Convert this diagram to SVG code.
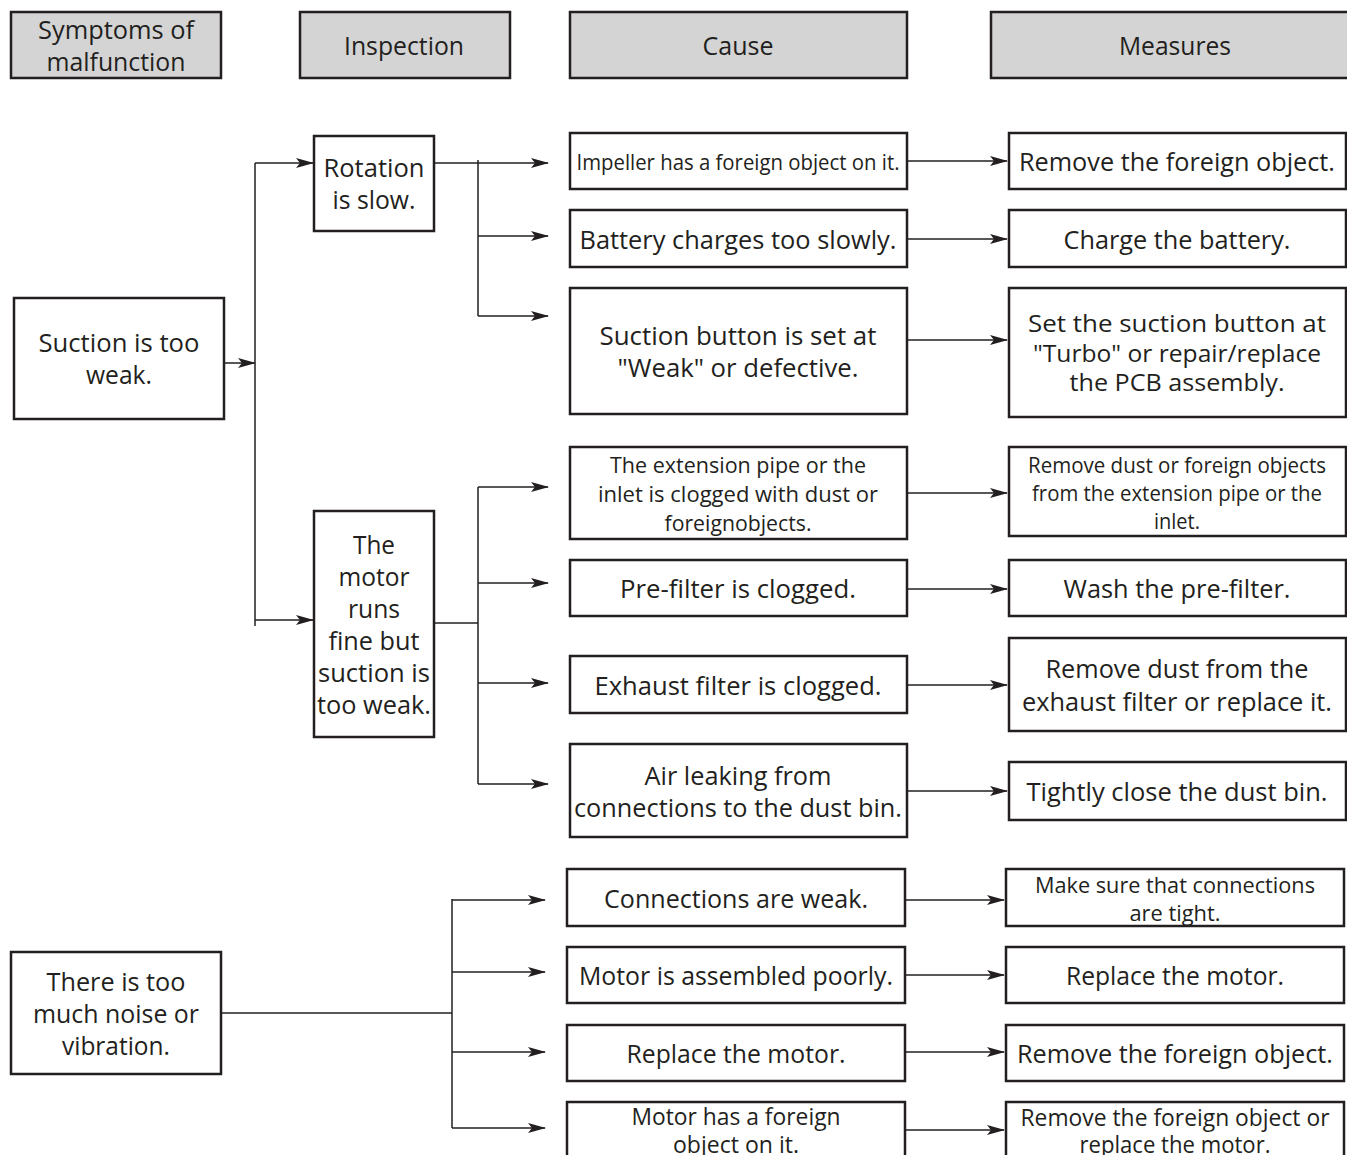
<svg xmlns="http://www.w3.org/2000/svg" width="1347" height="1155" viewBox="0 0 1347 1155">
<style>
.box{fill:#fff;stroke:#231f20;stroke-width:2.5}
.hdr{fill:#d4d4d4;stroke:#231f20;stroke-width:2.5}
.ln{fill:none;stroke:#231f20;stroke-width:1.5}
.ar{fill:none;stroke:#231f20;stroke-width:1.5;marker-end:url(#ah)}
text{font-family:"Open Sans","Noto Sans",sans-serif;fill:#231f20;text-anchor:middle;font-size:25px}
.s{font-size:22px}
.t{font-size:23px}
</style>
<defs>
<marker id="ah" markerWidth="18" markerHeight="10" refX="17" refY="5" orient="auto" markerUnits="userSpaceOnUse">
<path d="M0,0 L18,5 L0,10 L4,5 z" fill="#231f20"/>
</marker>
</defs>
<rect width="1347" height="1155" fill="#fff"/>

<g id="headers">
<g id="h-symptoms"><rect class="hdr" x="11" y="12" width="210" height="66"/>
<text x="116" y="39" textLength="156" lengthAdjust="spacingAndGlyphs">Symptoms of</text>
<text x="116" y="71" textLength="139" lengthAdjust="spacingAndGlyphs">malfunction</text></g>
<g id="h-inspection"><rect class="hdr" x="300" y="12" width="210" height="66"/>
<text x="404" y="55" textLength="120" lengthAdjust="spacingAndGlyphs">Inspection</text></g>
<g id="h-cause"><rect class="hdr" x="570" y="12" width="337" height="66"/>
<text x="738" y="55" textLength="71" lengthAdjust="spacingAndGlyphs">Cause</text></g>
<g id="h-measures"><rect class="hdr" x="991" y="12" width="360" height="66"/>
<text x="1175" y="55" textLength="112" lengthAdjust="spacingAndGlyphs">Measures</text></g>
</g>

<g id="connectors">
<line class="ar" x1="221" y1="363" x2="255" y2="363"/>
<line class="ln" x1="255" y1="163" x2="255" y2="626"/>
<line class="ar" x1="255" y1="163" x2="313" y2="163"/>
<line class="ar" x1="255" y1="620" x2="313" y2="620"/>
<line class="ln" x1="434" y1="163" x2="478" y2="163"/>
<line class="ln" x1="478" y1="160" x2="478" y2="316"/>
<line class="ar" x1="478" y1="163" x2="548" y2="163"/>
<line class="ar" x1="478" y1="236" x2="548" y2="236"/>
<line class="ar" x1="478" y1="316" x2="548" y2="316"/>
<line class="ln" x1="434" y1="623" x2="478" y2="623"/>
<line class="ln" x1="478" y1="487" x2="478" y2="784"/>
<line class="ar" x1="478" y1="487" x2="548" y2="487"/>
<line class="ar" x1="478" y1="583" x2="548" y2="583"/>
<line class="ar" x1="478" y1="683" x2="548" y2="683"/>
<line class="ar" x1="478" y1="784" x2="548" y2="784"/>
<line class="ar" x1="907" y1="161" x2="1007" y2="161"/>
<line class="ar" x1="907" y1="239" x2="1007" y2="239"/>
<line class="ar" x1="907" y1="340" x2="1007" y2="340"/>
<line class="ar" x1="907" y1="493" x2="1007" y2="493"/>
<line class="ar" x1="907" y1="589" x2="1007" y2="589"/>
<line class="ar" x1="907" y1="685" x2="1007" y2="685"/>
<line class="ar" x1="907" y1="791" x2="1007" y2="791"/>
<line class="ln" x1="221" y1="1013" x2="452" y2="1013"/>
<line class="ln" x1="452" y1="899" x2="452" y2="1128"/>
<line class="ar" x1="452" y1="900" x2="545" y2="900"/>
<line class="ar" x1="452" y1="972" x2="545" y2="972"/>
<line class="ar" x1="452" y1="1052" x2="545" y2="1052"/>
<line class="ar" x1="452" y1="1128" x2="545" y2="1128"/>
<line class="ar" x1="905" y1="900" x2="1004" y2="900"/>
<line class="ar" x1="905" y1="975" x2="1004" y2="975"/>
<line class="ar" x1="905" y1="1052" x2="1004" y2="1052"/>
<line class="ar" x1="905" y1="1130" x2="1004" y2="1130"/>
</g>

<g id="n-suction"><rect class="box" x="14" y="298" width="210" height="121"/>
<text x="119" y="352" textLength="161" lengthAdjust="spacingAndGlyphs">Suction is too</text>
<text x="119" y="384" textLength="66" lengthAdjust="spacingAndGlyphs">weak.</text></g>

<g id="n-rotation"><rect class="box" x="314" y="136" width="120" height="95"/>
<text x="374" y="177" textLength="101" lengthAdjust="spacingAndGlyphs">Rotation</text>
<text x="374" y="209" textLength="83" lengthAdjust="spacingAndGlyphs">is slow.</text></g>

<g id="n-motorfine"><rect class="box" x="314" y="511" width="120" height="226"/>
<text x="374" y="554" textLength="42" lengthAdjust="spacingAndGlyphs">The</text>
<text x="374" y="586" textLength="71" lengthAdjust="spacingAndGlyphs">motor</text>
<text x="374" y="618" textLength="52" lengthAdjust="spacingAndGlyphs">runs</text>
<text x="374" y="650" textLength="91" lengthAdjust="spacingAndGlyphs">fine but</text>
<text x="374" y="682" textLength="112" lengthAdjust="spacingAndGlyphs">suction is</text>
<text x="374" y="714" textLength="114" lengthAdjust="spacingAndGlyphs">too weak.</text></g>

<g id="c-impeller"><rect class="box" x="570" y="133" width="337" height="56"/>
<text class="s" x="738" y="170" textLength="323" lengthAdjust="spacingAndGlyphs">Impeller has a foreign object on it.</text></g>
<g id="c-battery"><rect class="box" x="570" y="210" width="337" height="57"/>
<text x="738" y="249" textLength="317" lengthAdjust="spacingAndGlyphs">Battery charges too slowly.</text></g>
<g id="c-button"><rect class="box" x="570" y="288" width="337" height="126"/>
<text x="738" y="345" textLength="277" lengthAdjust="spacingAndGlyphs">Suction button is set at</text>
<text x="738" y="377" textLength="241" lengthAdjust="spacingAndGlyphs">"Weak" or defective.</text></g>
<g id="c-pipe"><rect class="box" x="570" y="447" width="337" height="92"/>
<text class="s" x="738" y="473" textLength="256" lengthAdjust="spacingAndGlyphs">The extension pipe or the</text>
<text class="s" x="738" y="502" textLength="280" lengthAdjust="spacingAndGlyphs">inlet is clogged with dust or</text>
<text class="s" x="738" y="531" textLength="147" lengthAdjust="spacingAndGlyphs">foreignobjects.</text></g>
<g id="c-prefilter"><rect class="box" x="570" y="560" width="337" height="56"/>
<text x="738" y="598" textLength="236" lengthAdjust="spacingAndGlyphs">Pre-filter is clogged.</text></g>
<g id="c-exhaust"><rect class="box" x="570" y="656" width="337" height="57"/>
<text x="738" y="695" textLength="287" lengthAdjust="spacingAndGlyphs">Exhaust filter is clogged.</text></g>
<g id="c-air"><rect class="box" x="570" y="744" width="337" height="93"/>
<text x="738" y="785" textLength="187" lengthAdjust="spacingAndGlyphs">Air leaking from</text>
<text x="738" y="817" textLength="328" lengthAdjust="spacingAndGlyphs">connections to the dust bin.</text></g>

<g id="m-foreign"><rect class="box" x="1009" y="133" width="337" height="56"/>
<text x="1177" y="171" textLength="316" lengthAdjust="spacingAndGlyphs">Remove the foreign object.</text></g>
<g id="m-charge"><rect class="box" x="1009" y="210" width="337" height="57"/>
<text x="1177" y="249" textLength="227" lengthAdjust="spacingAndGlyphs">Charge the battery.</text></g>
<g id="m-setbutton"><rect class="box" x="1009" y="288" width="337" height="129"/>
<text class="t" x="1177" y="332" textLength="298" lengthAdjust="spacingAndGlyphs">Set the suction button at</text>
<text class="t" x="1177" y="362" textLength="288" lengthAdjust="spacingAndGlyphs">"Turbo" or repair/replace</text>
<text class="t" x="1177" y="391" textLength="215" lengthAdjust="spacingAndGlyphs">the PCB assembly.</text></g>
<g id="m-pipe"><rect class="box" x="1009" y="447" width="337" height="89"/>
<text class="s" x="1177" y="473" textLength="298" lengthAdjust="spacingAndGlyphs">Remove dust or foreign objects</text>
<text class="s" x="1177" y="501" textLength="290" lengthAdjust="spacingAndGlyphs">from the extension pipe or the</text>
<text class="s" x="1177" y="529" textLength="46" lengthAdjust="spacingAndGlyphs">inlet.</text></g>
<g id="m-wash"><rect class="box" x="1009" y="560" width="337" height="56"/>
<text x="1177" y="598" textLength="227" lengthAdjust="spacingAndGlyphs">Wash the pre-filter.</text></g>
<g id="m-exhaust"><rect class="box" x="1009" y="638" width="337" height="93"/>
<text x="1177" y="678" textLength="263" lengthAdjust="spacingAndGlyphs">Remove dust from the</text>
<text x="1177" y="711" textLength="310" lengthAdjust="spacingAndGlyphs">exhaust filter or replace it.</text></g>
<g id="m-close"><rect class="box" x="1009" y="762" width="337" height="58"/>
<text x="1177" y="801" textLength="301" lengthAdjust="spacingAndGlyphs">Tightly close the dust bin.</text></g>

<g id="n-noise"><rect class="box" x="11" y="952" width="210" height="122"/>
<text x="116" y="991" textLength="139" lengthAdjust="spacingAndGlyphs">There is too</text>
<text x="116" y="1023" textLength="166" lengthAdjust="spacingAndGlyphs">much noise or</text>
<text x="116" y="1055" textLength="108" lengthAdjust="spacingAndGlyphs">vibration.</text></g>

<g id="c-connections"><rect class="box" x="567" y="869" width="338" height="57"/>
<text x="736" y="908" textLength="264" lengthAdjust="spacingAndGlyphs">Connections are weak.</text></g>
<g id="c-assembled"><rect class="box" x="567" y="947" width="338" height="56"/>
<text x="736" y="985" textLength="314" lengthAdjust="spacingAndGlyphs">Motor is assembled poorly.</text></g>
<g id="c-replace"><rect class="box" x="567" y="1025" width="338" height="56"/>
<text x="736" y="1063" textLength="219" lengthAdjust="spacingAndGlyphs">Replace the motor.</text></g>
<g id="c-motorforeign"><rect class="box" x="567" y="1102" width="338" height="70"/>
<text class="t" x="736" y="1125" textLength="209" lengthAdjust="spacingAndGlyphs">Motor has a foreign</text>
<text class="t" x="736" y="1153" textLength="126" lengthAdjust="spacingAndGlyphs">object on it.</text></g>

<g id="m-tight"><rect class="box" x="1006" y="869" width="338" height="57"/>
<text class="s" x="1175" y="893" textLength="280" lengthAdjust="spacingAndGlyphs">Make sure that connections</text>
<text class="s" x="1175" y="921" textLength="91" lengthAdjust="spacingAndGlyphs">are tight.</text></g>
<g id="m-replace"><rect class="box" x="1006" y="947" width="338" height="56"/>
<text x="1175" y="985" textLength="218" lengthAdjust="spacingAndGlyphs">Replace the motor.</text></g>
<g id="m-foreign2"><rect class="box" x="1006" y="1025" width="338" height="56"/>
<text x="1175" y="1063" textLength="316" lengthAdjust="spacingAndGlyphs">Remove the foreign object.</text></g>
<g id="m-foreignreplace"><rect class="box" x="1006" y="1102" width="338" height="70"/>
<text class="t" x="1175" y="1126" textLength="309" lengthAdjust="spacingAndGlyphs">Remove the foreign object or</text>
<text class="t" x="1175" y="1153" textLength="191" lengthAdjust="spacingAndGlyphs">replace the motor.</text></g>
</svg>
